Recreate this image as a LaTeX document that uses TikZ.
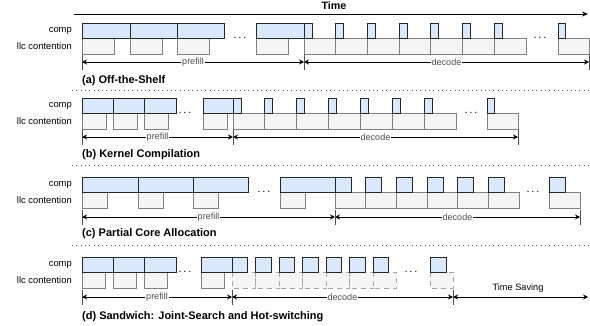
\documentclass[tikz,border=0pt]{standalone}
\usepackage{fontspec}
\setmainfont{Liberation Sans}
\usetikzlibrary{arrows.meta,positioning}
\definecolor{compfill}{HTML}{DAE8FC}
\definecolor{llcfill}{HTML}{F5F5F5}
\definecolor{llcline}{HTML}{808080}
\tikzset{
  comp/.style={draw=black!85,fill=compfill,line width=0.8pt},
  llc/.style={draw=llcline,fill=llcfill,line width=0.8pt},
  llcdash/.style={llc,draw=llcline!70,dash pattern=on 5pt off 4pt},
  rowlbl/.style={anchor=east,inner sep=0pt,font=\fontsize{9.4}{10}\selectfont},
  caption/.style={anchor=west,inner sep=0pt,font=\fontsize{11}{12}\selectfont\bfseries},
  dim/.style={{Stealth[length=5pt,width=5pt]}-{Stealth[length=5pt,width=5pt]},line width=0.8pt},
  dimlbl/.style={fill=white,inner sep=1pt,font=\fontsize{9}{10}\selectfont,text=black!70},
  endtick/.style={line width=0.6pt,draw=black!70},
  panelsep/.style={line width=1pt,dash pattern=on 1pt off 3.3pt,draw=black!65},
  etc/.style={anchor=base,inner sep=0pt,font=\fontsize{11}{12}\selectfont},
  timeax/.style={-{Stealth[length=6pt,width=5pt]},line width=0.8pt}
}

\begin{document}
\begin{tikzpicture}[x=1pt,y=-1pt]
  \useasboundingbox (0,0) rectangle (590,325);
  % prefill step: comp #1..#2, llc #3 wide, row top #4
  \def\pstep#1#2#3#4{\draw[llc] (#1,#4+15) rectangle (#1+#3,#4+31); \draw[comp] (#1,#4) rectangle (#2,#4+15);}
  % decode step: llc #2 wide, comp #3 wide, row top #4, llc style #5
  \def\dstep#1#2#3#4#5{\draw[#5] (#1,#4+15) rectangle (#1+#2,#4+31); \draw[comp] (#1,#4) rectangle (#1+#3,#4+15);}
  \def\rows#1#2{\node[rowlbl] (comp#1) at (72,#2+7.5) {comp}; \node[rowlbl] (llc#1) at (72,#2+23.5) {llc contention};}
  \def\dimarr#1#2#3#4{\draw[dim] (#1) -- node[dimlbl] (#3) {#4} (#2);}

  % time axis
  \coordinate (t0) at (74,14); \coordinate (t1) at (588,14);
  \draw[timeax] (t0) -- (t1);
  \node[font=\fontsize{10.7}{12}\selectfont\bfseries,inner sep=0pt] (time) at (334,6) {Time};

  % (a) off-the-shelf
  \rows{A}{23}
  \foreach \x/\r in {82/130,130/177,177/224,256/304} \pstep{\x}{\r}{32}{23};
  \foreach \i in {0,...,6} \dstep{304+\i*31.7}{31.7}{8}{23}{llc};
  \dstep{558}{31}{7.5}{23}{llc}
  \node[etc] (etcA1) at (240,38.8) {.\,.\,.};
  \node[etc] (etcA2) at (540,38.8) {.\,.\,.};
  \coordinate (a0) at (82,62); \coordinate (a1) at (304,62); \coordinate (a2) at (589,62);
  \dimarr{a0}{a1}{preA}{prefill}
  \dimarr{a1}{a2}{decA}{decode}
  \foreach \c in {a0,a1,a2} \draw[endtick] ([yshift=7pt]\c) -- ([yshift=-8pt]\c);
  \node[caption] (capA) at (82,81) {(a) Off-the-Shelf};
  \draw[panelsep] (72,90) -- (590,90);

  % (b) kernel compilation
  \rows{B}{98}
  \foreach \x/\r in {82/113,113/144,144/176,203/233} \pstep{\x}{\r}{24}{98};
  \foreach \i in {0,...,6} \dstep{233+\i*31.86}{31.86}{8}{98}{llc};
  \dstep{487}{31}{7.5}{98}{llc}
  \node[etc] (etcB1) at (185,113.8) {.\,.\,.};
  \node[etc] (etcB2) at (471,113.8) {.\,.\,.};
  \coordinate (b0) at (82,137); \coordinate (b1) at (233,137); \coordinate (b2) at (518,137);
  \dimarr{b0}{b1}{preB}{prefill}
  \dimarr{b1}{b2}{decB}{decode}
  \foreach \c in {b0,b1,b2} \draw[endtick] ([yshift=7pt]\c) -- ([yshift=-8pt]\c);
  \node[caption] (capB) at (82,155) {(b) Kernel Compilation};
  \draw[panelsep] (72,165) -- (590,165);

  % (c) partial core allocation
  \rows{C}{177}
  \foreach \x/\r in {82/138,138/193,193/248,280/335} \pstep{\x}{\r}{25}{177};
  \foreach \i in {0,...,5} \dstep{335+\i*30.67}{30.67}{16}{177}{llc};
  \dstep{549}{31}{16}{177}{llc}
  \node[etc] (etcC1) at (264,192.8) {.\,.\,.};
  \node[etc] (etcC2) at (533,192.8) {.\,.\,.};
  \coordinate (c0) at (82,217); \coordinate (c1) at (335,217); \coordinate (c2) at (580,217);
  \dimarr{c0}{c1}{preC}{prefill}
  \dimarr{c1}{c2}{decC}{decode}
  \foreach \c in {c0,c1,c2} \draw[endtick] ([yshift=7pt]\c) -- ([yshift=-8pt]\c);
  \node[caption] (capC) at (82,234) {(c) Partial Core Allocation};
  \draw[panelsep] (72,245) -- (590,245);

  % (d) sandwich
  \rows{D}{257}
  \foreach \x/\r in {82/113,113/144,144/176,201/232} \pstep{\x}{\r}{23}{257};
  \foreach \i in {0,...,6} \dstep{232+\i*23.5}{23.5}{15.5}{257}{llcdash};
  \dstep{430}{23}{16}{257}{llcdash}
  \node[etc] (etcD1) at (185,272.8) {.\,.\,.};
  \node[etc] (etcD2) at (411,272.8) {.\,.\,.};
  \coordinate (d0) at (82,297); \coordinate (d1) at (232,297); \coordinate (d2) at (453,297); \coordinate (d3) at (588,297);
  \dimarr{d0}{d1}{preD}{prefill}
  \dimarr{d1}{d2}{decD}{decode}
  \draw[dim] (d2) -- (d3);
  \node[font=\fontsize{9.2}{10}\selectfont,inner sep=0pt] (saveD) at (518,288) {Time Saving};
  \foreach \c in {d0,d1,d2} \draw[endtick] ([yshift=7pt]\c) -- ([yshift=-8pt]\c);
  \node[caption] (capD) at (82,317) {(d) Sandwich: Joint-Search and Hot-switching};
\end{tikzpicture}
\end{document}
